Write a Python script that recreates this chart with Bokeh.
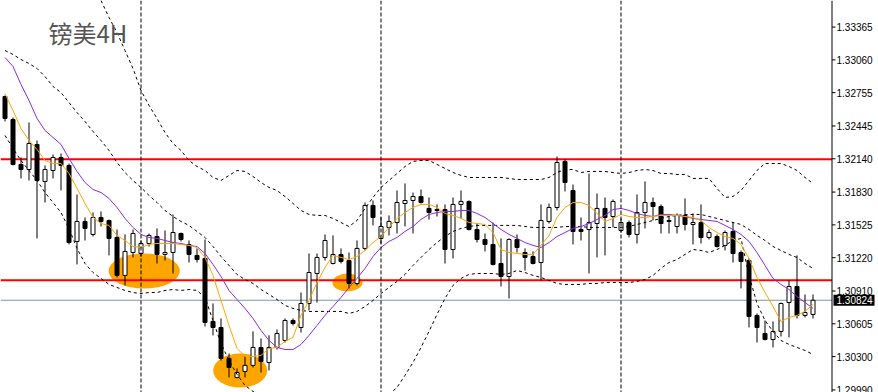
from bokeh.plotting import figure
from bokeh.models import ColumnDataSource, Span, Label, Range1d
from bokeh.core.properties import value
from bokeh.embed import file_html
from bokeh.resources import INLINE

# ---------------- data (GBP/USD 4H) ----------------
opens = [1.32719, 1.32505, 1.32087, 1.32040, 1.32273, 1.31929, 1.32031, 1.32152, 1.32078, 1.31371,
         1.31557, 1.31436, 1.31594, 1.31566, 1.31408, 1.31055, 1.31268, 1.31259, 1.31352, 1.31417,
         1.31250, 1.31268, 1.31445, 1.31343, 1.31241, 1.31213, 1.30627, 1.30571, 1.30283, 1.30106,
         1.30162, 1.30218, 1.30385, 1.30245, 1.30385, 1.30450, 1.30636, 1.30571, 1.30794, 1.31073,
         1.31222, 1.31166, 1.31250, 1.31194, 1.30980, 1.31306, 1.31706, 1.31399, 1.31501, 1.31547,
         1.31724, 1.31752, 1.31789, 1.31678, 1.31668, 1.31668, 1.31296, 1.31715, 1.31743, 1.31482,
         1.31389, 1.31343, 1.31166, 1.31045, 1.31389, 1.31268, 1.31231, 1.31175, 1.31557, 1.31687,
         1.32115, 1.31845, 1.31482, 1.31482, 1.31538, 1.31678, 1.31603, 1.31473, 1.31547, 1.31436,
         1.31640, 1.31733, 1.31696, 1.31566, 1.31510, 1.31613, 1.31529, 1.31547, 1.31408, 1.31417,
         1.31334, 1.31464, 1.31268, 1.31194, 1.30683, 1.30515, 1.30459, 1.30534, 1.30803, 1.30952,
         1.30683, 1.30692]
highs = [1.32728, 1.32524, 1.32152, 1.32477, 1.32310, 1.32078, 1.32180, 1.32189, 1.32096, 1.31808,
         1.31594, 1.31640, 1.31650, 1.31575, 1.31482, 1.31436, 1.31482, 1.31380, 1.31445, 1.31492,
         1.31473, 1.31622, 1.31454, 1.31380, 1.31306, 1.31389, 1.30794, 1.30655, 1.30329, 1.30190,
         1.30301, 1.30534, 1.30469, 1.30497, 1.30552, 1.30655, 1.30655, 1.30896, 1.31259, 1.31259,
         1.31436, 1.31427, 1.31306, 1.31268, 1.31380, 1.31733, 1.31752, 1.31594, 1.31613, 1.31845,
         1.31910, 1.31826, 1.31854, 1.31780, 1.31715, 1.31715, 1.31780, 1.31845, 1.31752, 1.31538,
         1.31445, 1.31547, 1.31399, 1.31399, 1.31436, 1.31306, 1.31278, 1.31715, 1.31724, 1.32161,
         1.32133, 1.31901, 1.31594, 1.32003, 1.31817, 1.31780, 1.31761, 1.31585, 1.31566, 1.31808,
         1.31929, 1.31780, 1.31715, 1.31603, 1.31631, 1.31771, 1.31631, 1.31715, 1.31482, 1.31436,
         1.31473, 1.31547, 1.31287, 1.31213, 1.30701, 1.30636, 1.30627, 1.30803, 1.31008, 1.31241,
         1.30878, 1.30878]
lows = [1.32487, 1.32078, 1.31957, 1.31938, 1.31399, 1.31733, 1.31957, 1.31845, 1.31343, 1.31157,
        1.31380, 1.31417, 1.31510, 1.31241, 1.31036, 1.30962, 1.31222, 1.31231, 1.31324, 1.31166,
        1.31194, 1.31073, 1.31371, 1.31175, 1.31175, 1.30580, 1.30497, 1.30264, 1.30106, 1.30097,
        1.30106, 1.30199, 1.30152, 1.30171, 1.30366, 1.30431, 1.30590, 1.30524, 1.30729, 1.30803,
        1.31194, 1.31157, 1.31166, 1.30934, 1.30962, 1.31287, 1.31520, 1.31352, 1.31427, 1.31445,
        1.31510, 1.31445, 1.31724, 1.31575, 1.31603, 1.31166, 1.31213, 1.31585, 1.31473, 1.31361,
        1.31278, 1.31148, 1.30952, 1.30841, 1.31268, 1.31101, 1.31157, 1.31008, 1.31538, 1.31659,
        1.31836, 1.31343, 1.31380, 1.31073, 1.31222, 1.31241, 1.31501, 1.31454, 1.31408, 1.31352,
        1.31492, 1.31566, 1.31445, 1.31445, 1.31445, 1.31473, 1.31343, 1.31352, 1.31389, 1.31315,
        1.31287, 1.31175, 1.30934, 1.30571, 1.30431, 1.30450, 1.30385, 1.30487, 1.30478, 1.30655,
        1.30664, 1.30655]
closes = [1.32515, 1.32087, 1.32040, 1.32282, 1.31938, 1.32040, 1.32152, 1.32078, 1.31361, 1.31557,
          1.31492, 1.31594, 1.31557, 1.31399, 1.31055, 1.31278, 1.31445, 1.31352, 1.31427, 1.31250,
          1.31268, 1.31454, 1.31389, 1.31250, 1.31203, 1.30617, 1.30571, 1.30283, 1.30199, 1.30152,
          1.30218, 1.30385, 1.30255, 1.30385, 1.30515, 1.30636, 1.30608, 1.30794, 1.31082, 1.31222,
          1.31380, 1.31250, 1.31185, 1.30980, 1.31306, 1.31706, 1.31594, 1.31510, 1.31557, 1.31733,
          1.31752, 1.31789, 1.31733, 1.31640, 1.31659, 1.31296, 1.31715, 1.31743, 1.31482, 1.31389,
          1.31343, 1.31157, 1.31045, 1.31389, 1.31315, 1.31222, 1.31166, 1.31566, 1.31687, 1.32105,
          1.31919, 1.31464, 1.31464, 1.31547, 1.31678, 1.31594, 1.31743, 1.31547, 1.31436, 1.31640,
          1.31733, 1.31696, 1.31538, 1.31557, 1.31613, 1.31529, 1.31547, 1.31408, 1.31454, 1.31324,
          1.31454, 1.31259, 1.31185, 1.30673, 1.30571, 1.30459, 1.30534, 1.30794, 1.30952, 1.30683,
          1.30710, 1.30824]

# fast moving average (orange)
ma_fast = [1.32747, 1.32589, 1.32422, 1.32310, 1.32226, 1.32124, 1.32096, 1.32096, 1.32003, 1.31864,
           1.31724, 1.31594, 1.31538, 1.31520, 1.31427, 1.31380, 1.31324, 1.31315, 1.31343, 1.31352,
           1.31352, 1.31352, 1.31343, 1.31334, 1.31315, 1.31222, 1.31055, 1.30822, 1.30590, 1.30376,
           1.30301, 1.30301, 1.30311, 1.30376, 1.30385, 1.30441, 1.30478, 1.30683, 1.30822, 1.30989,
           1.31129, 1.31241, 1.31222, 1.31203, 1.31231, 1.31287, 1.31361, 1.31417, 1.31501, 1.31585,
           1.31640, 1.31687, 1.31715, 1.31715, 1.31687, 1.31631, 1.31613, 1.31585, 1.31547, 1.31538,
           1.31529, 1.31454, 1.31296, 1.31268, 1.31259, 1.31250, 1.31250, 1.31334, 1.31427, 1.31594,
           1.31687, 1.31733, 1.31733, 1.31706, 1.31631, 1.31557, 1.31585, 1.31622, 1.31603, 1.31594,
           1.31594, 1.31603, 1.31613, 1.31613, 1.31613, 1.31603, 1.31594, 1.31566, 1.31501, 1.31454,
           1.31417, 1.31399, 1.31343, 1.31213, 1.31036, 1.30896, 1.30766, 1.30627, 1.30664, 1.30683,
           1.30720, 1.30785]
# slow moving average (purple)
ma_slow = [1.33082, 1.32998, 1.32831, 1.32682, 1.32515, 1.32403, 1.32338, 1.32273, 1.32143, 1.32022,
           1.31919, 1.31854, 1.31826, 1.31771, 1.31687, 1.31585, 1.31501, 1.31436, 1.31408, 1.31399,
           1.31380, 1.31361, 1.31352, 1.31334, 1.31324, 1.31259, 1.31157, 1.31045, 1.30915, 1.30831,
           1.30748, 1.30655, 1.30543, 1.30450, 1.30385, 1.30366, 1.30366, 1.30413, 1.30497, 1.30590,
           1.30683, 1.30766, 1.30850, 1.30943, 1.31027, 1.31120, 1.31231, 1.31315, 1.31371, 1.31408,
           1.31464, 1.31510, 1.31575, 1.31622, 1.31640, 1.31650, 1.31650, 1.31659, 1.31659, 1.31631,
           1.31594, 1.31538, 1.31482, 1.31436, 1.31399, 1.31361, 1.31334, 1.31315, 1.31361, 1.31417,
           1.31454, 1.31492, 1.31510, 1.31538, 1.31575, 1.31613, 1.31668, 1.31678, 1.31659, 1.31631,
           1.31613, 1.31603, 1.31622, 1.31622, 1.31613, 1.31603, 1.31585, 1.31575, 1.31566, 1.31557,
           1.31520, 1.31482, 1.31436, 1.31371, 1.31268, 1.31148, 1.31027, 1.30971, 1.30924, 1.30859,
           1.30803, 1.30748]
# Bollinger bands
bb_mid = [1.33147, 1.33110, 1.33063, 1.33026, 1.32980, 1.32905, 1.32812, 1.32756, 1.32663, 1.32570,
          1.32487, 1.32394, 1.32310, 1.32217, 1.32105, 1.32012, 1.31938, 1.31873, 1.31799, 1.31733,
          1.31659, 1.31603, 1.31557, 1.31520, 1.31464, 1.31408, 1.31324, 1.31231, 1.31148, 1.31064,
          1.31017, 1.30980, 1.30924, 1.30878, 1.30831, 1.30776, 1.30748, 1.30729, 1.30720, 1.30720,
          1.30720, 1.30720, 1.30720, 1.30701, 1.30720, 1.30766, 1.30822, 1.30887, 1.30943, 1.30999,
          1.31064, 1.31148, 1.31222, 1.31296, 1.31361, 1.31417, 1.31464, 1.31492, 1.31510, 1.31520,
          1.31520, 1.31520, 1.31520, 1.31520, 1.31520, 1.31510, 1.31501, 1.31501, 1.31501, 1.31501,
          1.31510, 1.31510, 1.31510, 1.31501, 1.31501, 1.31501, 1.31501, 1.31501, 1.31510, 1.31529,
          1.31547, 1.31566, 1.31585, 1.31603, 1.31613, 1.31622, 1.31622, 1.31622, 1.31603, 1.31585,
          1.31566, 1.31547, 1.31529, 1.31482, 1.31427, 1.31380, 1.31324, 1.31287, 1.31250, 1.31222,
          1.31166, 1.31120]
bb_upper_first = 12
bb_upper = [1.33612, 1.33454, 1.33314, 1.33147, 1.32980, 1.32775, 1.32636, 1.32515, 1.32384, 1.32282,
            1.32217, 1.32124, 1.32068, 1.32031, 1.31966, 1.31938, 1.31985, 1.32031, 1.32022, 1.31975,
            1.31919, 1.31873, 1.31845, 1.31789, 1.31724, 1.31659, 1.31622, 1.31613, 1.31613, 1.31585,
            1.31547, 1.31510, 1.31566, 1.31678, 1.31780, 1.31873, 1.31938, 1.32003, 1.32068, 1.32115,
            1.32124, 1.32124, 1.32087, 1.32050, 1.32012, 1.31985, 1.31966, 1.31966, 1.31966, 1.31966,
            1.31966, 1.31957, 1.31947, 1.31947, 1.31947, 1.31947, 1.31966, 1.32012, 1.32040, 1.32040,
            1.32012, 1.32022, 1.32022, 1.32022, 1.32012, 1.32003, 1.32012, 1.32031, 1.32040, 1.32031,
            1.32003, 1.32003, 1.31994, 1.31994, 1.31957, 1.31957, 1.31957, 1.31864, 1.31780, 1.31789,
            1.31845, 1.31938, 1.32031, 1.32096, 1.32096, 1.32096, 1.32068, 1.32031, 1.31966, 1.31910]
bb_lower = [1.32357, 1.32236, 1.32124, 1.32031, 1.31938, 1.31826, 1.31733, 1.31640, 1.31492, 1.31306,
            1.31166, 1.31082, 1.31027, 1.30971, 1.30943, 1.30915, 1.30896, 1.30887, 1.30896, 1.30896,
            1.30915, 1.30924, 1.30915, 1.30924, 1.30915, 1.30850, 1.30636, 1.30422, 1.30264, 1.30134,
            1.30032, 1.29976, 1.29929, 1.29883, 1.29818, 1.29762, 1.29771, 1.29799, 1.29818, 1.29827,
            1.29827, 1.29855, 1.29892, 1.29892, 1.29873, 1.29855, 1.29864, 1.29901, 1.29948, 1.30013,
            1.30125, 1.30245, 1.30385, 1.30534, 1.30692, 1.30841, 1.30962, 1.31027, 1.31064, 1.31073,
            1.31073, 1.31073, 1.31064, 1.31073, 1.31101, 1.31082, 1.31055, 1.31036, 1.31008, 1.30980,
            1.30971, 1.30971, 1.30971, 1.30980, 1.30980, 1.30989, 1.30989, 1.30989, 1.30989, 1.30999,
            1.31017, 1.31055, 1.31120, 1.31175, 1.31203, 1.31250, 1.31296, 1.31287, 1.31268, 1.31296,
            1.31334, 1.31380, 1.31399, 1.31055, 1.30794, 1.30636, 1.30534, 1.30450, 1.30413, 1.30385,
            1.30357, 1.30320]

price_ticks = [1.33365, 1.33060, 1.32755, 1.32445, 1.32140, 1.31830,
               1.31525, 1.31220, 1.30910, 1.30605, 1.30300, 1.29990]
separator_bars = [17, 47, 77]
resistance_level = 1.32135
support_level = 1.31010
zone_x = [17.4, 42.8, 29.4]           # bar index of highlighted zones
zone_price = [1.31096, 1.30989, 1.30171]
zone_w = [8.9, 3.75, 6.75]            # in bars
zone_h = [0.00326, 0.00167, 0.00316]  # in price
title_text = "镑美4H"

# ---------------- layout constants ----------------
W, H = 878, 392
BAR_PX = 8.0          # pixels per bar
FIRST_PX = 4.5        # pixel centre of first bar
SCALE_PX = 831.5      # pixel position of the price-scale line


def bx(px):
    """screen pixel -> bar coordinate"""
    return (px - FIRST_PX) / BAR_PX


n = len(closes)
idx = list(range(n))
axis_x = bx(SCALE_PX)
x0 = bx(0)

src = ColumnDataSource(dict(
    x=idx, o=opens, h=highs, l=lows, c=closes,
    top=[max(a, b) for a, b in zip(opens, closes)],
    bot=[min(a, b) for a, b in zip(opens, closes)],
    fill=["white" if c >= o else "black" for o, c in zip(opens, closes)],
))

p = figure(width=W, height=H, output_backend="svg", toolbar_location=None,
           x_range=Range1d(x0, bx(W)), y_range=Range1d(1.29966, 1.33612),
           x_axis_location=None, y_axis_location=None,
           min_border_left=0, min_border_top=0, min_border_bottom=0, min_border_right=0)
p.outline_line_color = None
p.grid.visible = False
p.background_fill_color = "white"
p.border_fill_color = "white"

# highlighted zones
p.ellipse(x=zone_x, y=zone_price, width=zone_w, height=zone_h,
          fill_color="#FFA500", line_color=None)

# period separators
for b in separator_bars:
    p.add_layout(Span(location=b, dimension="height", line_color="black",
                      line_width=1, line_dash="4 2"))

# support / resistance and last price line (end at the price scale)
levels = [resistance_level, support_level]
p.segment(x0=[x0] * 2, x1=[axis_x] * 2, y0=levels, y1=levels,
          line_color="#FF0000", line_width=2)
p.segment(x0=[x0], x1=[axis_x], y0=[closes[-1]], y1=[closes[-1]],
          line_color="#8494A4", line_width=1)

# candles
p.segment(x0="x", y0="h", x1="x", y1="l", source=src, line_color="black", line_width=1)
p.vbar(x="x", width=0.5, top="top", bottom="bot", fill_color="fill",
       line_color="black", line_width=1, source=src)

# bands
p.line(idx, bb_mid, line_color="black", line_width=1, line_dash="3 3")
p.line(list(range(bb_upper_first, n)), bb_upper, line_color="black", line_width=1, line_dash="3 3")
p.line(idx, bb_lower, line_color="black", line_width=1, line_dash="3 3")

# moving averages
p.line(idx, ma_slow, line_color="#8A2BE2", line_width=1)
p.line(idx, ma_fast, line_color="#FFA500", line_width=1)

# ---- price scale (right) ----
p.segment(x0=[axis_x], x1=[axis_x], y0=[1.29966], y1=[1.33612], line_color="black", line_width=1)
p.segment(x0=[axis_x] * len(price_ticks), x1=[bx(SCALE_PX + 3.5)] * len(price_ticks),
          y0=price_ticks, y1=price_ticks, line_color="black", line_width=1)
p.text(x=[bx(SCALE_PX + 4.5)] * len(price_ticks), y=price_ticks,
       text=["%.5f" % t for t in price_ticks],
       text_font=value("Liberation Sans"), text_font_size=value("10px"),
       text_color="black", text_baseline="middle", text_align="left")

# last price tag
p.rect(x=[bx(SCALE_PX + 22)], y=[closes[-1]], width=41, height=11,
       width_units="screen", height_units="screen", fill_color="black", line_color=None)
p.text(x=[bx(SCALE_PX + 4.5)], y=[closes[-1]], text=["%.5f" % closes[-1]],
       text_font=value("Liberation Sans"), text_font_size=value("10px"),
       text_color="white", text_baseline="middle", text_align="left")

# title
p.add_layout(Label(x=48, y=378, x_units="screen", y_units="screen", text=title_text,
                   text_font="Noto Sans CJK SC", text_font_size="24px",
                   text_color="#555555", text_baseline="top", text_align="left"))

open("out.html", "w").write(file_html(p, INLINE))
